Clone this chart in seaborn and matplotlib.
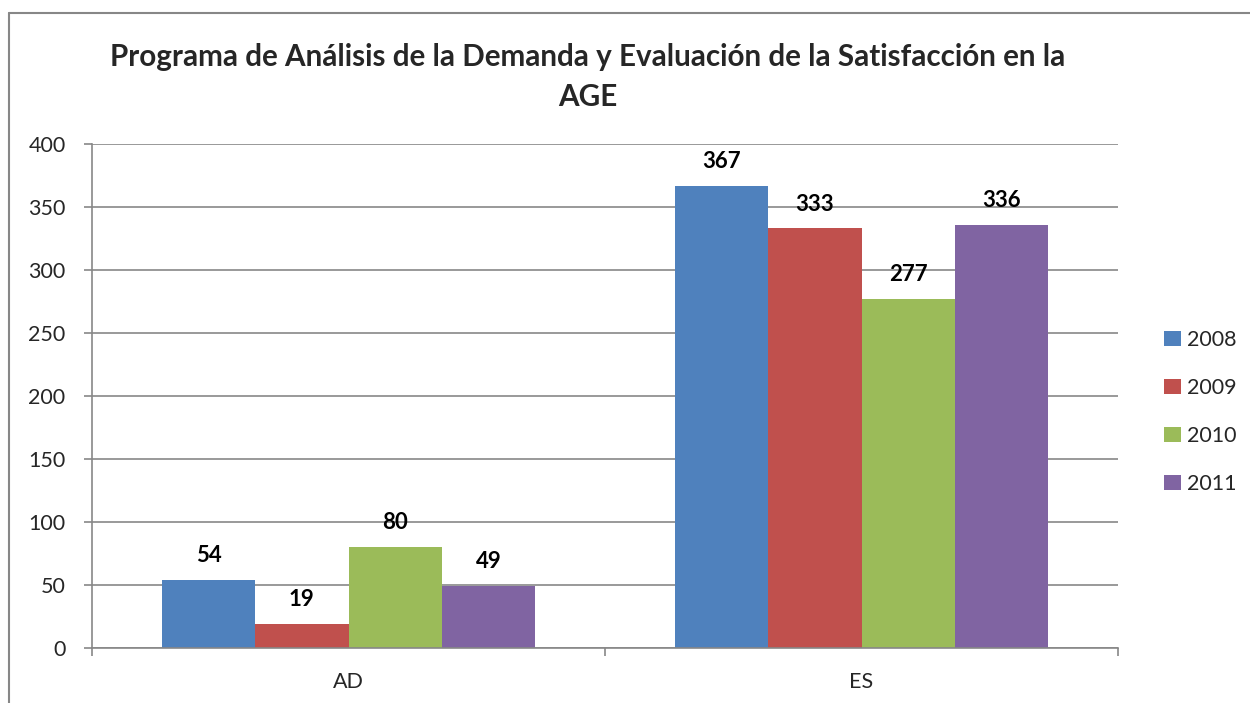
import matplotlib
matplotlib.use("Agg")
import matplotlib.pyplot as plt
import seaborn as sns
import pandas as pd
from matplotlib.lines import Line2D

categories = ["AD", "ES"]
years = ["2008", "2009", "2010", "2011"]
values_2008 = [54, 367]
values_2009 = [19, 333]
values_2010 = [80, 277]
values_2011 = [49, 336]
colors = ["#4F81BD", "#C0504D", "#9BBB59", "#8064A2"]
title = "Programa de Análisis de la Demanda y Evaluación de la Satisfacción en la\nAGE"
yticks = [0, 50, 100, 150, 200, 250, 300, 350, 400]

rows = []
for yr, vals in zip(years, [values_2008, values_2009, values_2010, values_2011]):
    for c, v in zip(categories, vals):
        rows.append({"cat": c, "year": yr, "value": v})
df = pd.DataFrame(rows)

sns.set_theme(style="white")
plt.rcParams["font.family"] = ["Lato", "DejaVu Sans"]

fig = plt.figure(figsize=(12.5, 7.03), dpi=100)
ax = fig.add_axes([92/1250, 1-648/703, (1118-92)/1250, (648-144)/703])

sns.barplot(data=df, x="cat", y="value", hue="year", palette=colors,
            width=0.727, ax=ax, saturation=1, legend=True, linewidth=0)

for cont in ax.containers:
    ax.bar_label(cont, padding=10, fontsize=16, fontweight="bold", color="black")

ax.set_ylim(0, 400)
ax.set_xlim(-0.5, 1.5)
ax.set_yticks(yticks)
ax.set_yticklabels([str(t) for t in yticks], fontsize=15.5)
ax.yaxis.grid(True, color="#878787", linewidth=1.2)
ax.set_axisbelow(True)
ax.set_xlabel("")
ax.set_ylabel("")
for s in ["top", "right"]:
    ax.spines[s].set_visible(False)
for s in ["left", "bottom"]:
    ax.spines[s].set_color("#878787")
    ax.spines[s].set_linewidth(1.2)
ax.tick_params(axis="y", left=True, length=6, width=1.2, color="#878787", pad=13)
ax.set_xticks([-0.5, 0.5, 1.5], minor=True)
ax.tick_params(axis="x", which="minor", bottom=True, length=6, width=1.2, color="#878787")
ax.tick_params(axis="x", which="major", bottom=False, length=0, pad=17, labelsize=15.5)

handles, labels = ax.get_legend_handles_labels()
ax.legend(handles, labels, loc="center left", bbox_to_anchor=(1145/1250, 1-412/703),
          bbox_transform=fig.transFigure, frameon=False, fontsize=15.5,
          handlelength=0.75, handleheight=0.75, handletextpad=0.3, labelspacing=1.3)

fig.text(588/1250, 1-77/703, title, ha="center", va="center", fontsize=21.3,
         fontweight="bold", linespacing=1.5)

fig.add_artist(Line2D([9/1250, 9/1250], [0, 1-13/703], transform=fig.transFigure,
                      color="#878787", linewidth=1.5))
fig.add_artist(Line2D([9/1250, 1], [1-13/703, 1-13/703], transform=fig.transFigure,
                      color="#878787", linewidth=1.5))

fig.savefig("out.png", dpi=100)
